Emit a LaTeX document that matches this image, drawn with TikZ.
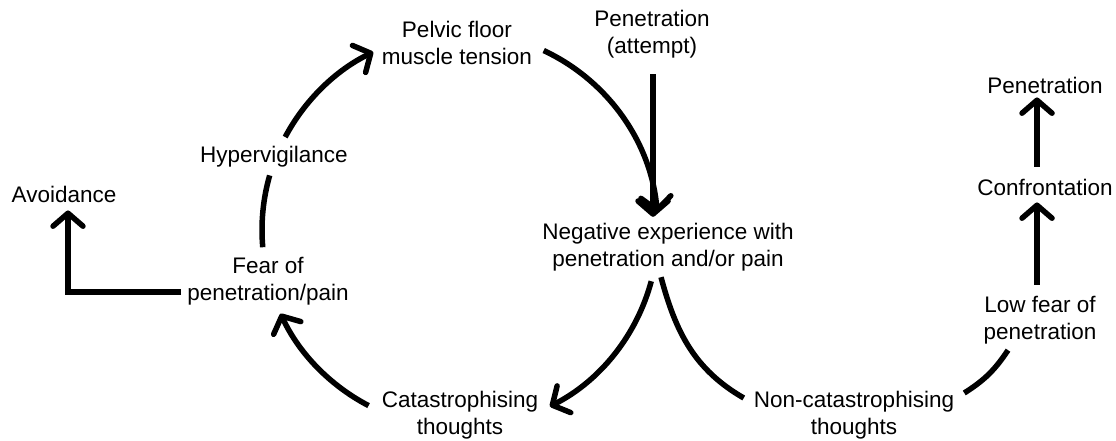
\documentclass[tikz,border=0pt]{standalone}
\usepackage{fontspec}
\setmainfont{Liberation Sans}
\usetikzlibrary{arrows.meta,calc}
\begin{document}
\begin{tikzpicture}[x=1pt,y=1pt,
  lbl/.style={align=center,inner sep=2pt,font=\fontsize{22.5}{27}\selectfont},
  conn/.style={line width=5.5pt},
  arr/.style={conn,-{Straight Barb[round,length=13pt,width=30pt]}}]
\useasboundingbox (0,0) rectangle (1116,441);
\coordinate (O) at (460,211);
% nodes
\node[lbl] (pelvic) at (457,398) {Pelvic floor\\muscle tension};
\node[lbl] (penatt) at (652,407) {Penetration\\(attempt)};
\node[lbl] (neg) at (668,194) {Negative experience with\\penetration and/or pain};
\node[lbl] (hyper) at (274,284) {Hypervigilance};
\node[lbl] (avoid) at (64,247) {Avoidance};
\node[lbl] (fear) at (268,160) {Fear of\\penetration/pain};
\node[lbl] (cat) at (460,26) {Catastrophising\\thoughts};
\node[lbl] (noncat) at (854,26) {Non-catastrophising\\thoughts};
\node[lbl] (lowfear) at (1040,121) {Low fear of\\penetration};
\node[lbl] (confr) at (1045,254) {Confrontation};
\node[lbl] (pen) at (1045,356) {Penetration};
% straight connectors
\draw[arr] ([xshift=1pt,yshift=-14pt]penatt.south) -- ([xshift=-15pt,yshift=4pt]neg.north);
\draw[arr] ([xshift=-4pt,yshift=-11pt]fear.west) -| ([xshift=4pt,yshift=-6pt]avoid.south);
\draw[arr] ([xshift=-3pt,yshift=9pt]lowfear.north) -- ([xshift=-8pt,yshift=-5pt]confr.south);
\draw[arr] ([xshift=-8pt,yshift=10pt]confr.north) -- ([xshift=-8pt,yshift=-2pt]pen.south);
% cycle arcs
\draw[arr] ($(O)+(242.5:198)$) arc[start angle=242.5,end angle=205,radius=198];
\draw[conn] ($(O)+(185:198)$) arc[start angle=185,end angle=164,radius=198];
\draw[arr] ($(O)+(152:198)$) arc[start angle=152,end angle=116,radius=198];
\draw[arr] ($(O)+(65:198)$) arc[start angle=65,end angle=5,radius=198];
\draw[arr] ($(O)+(-15:198)$) arc[start angle=-15,end angle=-63,radius=198];
% right branch
\draw[conn] ([xshift=-7pt,yshift=-4pt]neg.south) to[out=-75,in=150] ([xshift=-8pt,yshift=17pt]noncat.west);
\draw[conn] ([xshift=8pt,yshift=22pt]noncat.east) to[bend right=12] ([xshift=-32pt,yshift=-4pt]lowfear.south);
\end{tikzpicture}
\end{document}
